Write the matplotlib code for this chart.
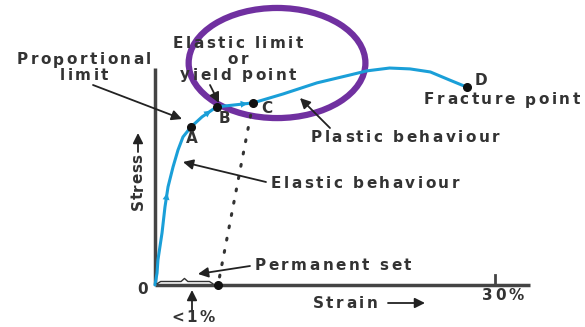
import matplotlib.pyplot as plt
from matplotlib.patches import Ellipse
from matplotlib.font_manager import FontProperties

# stress-strain curve (strain in %, stress in arbitrary units, max ~100)
strain = [0, 0.18, 0.26, 0.62, 0.88, 1.15, 1.59, 2.03, 2.47, 3.18, 4.15,
          5.30, 5.47, 7.06, 8.65, 11.3, 14.3, 17.2, 18.7, 20.7, 22.5,
          24.3, 26.0, 27.5]
stress = [0, 5.5, 11.5, 23.9, 35.8, 45.0, 54.1, 61.9, 67.9, 72.5, 77.1,
          81.2, 81.7, 82.6, 83.5, 87.6, 92.7, 96.3, 98.2, 99.5, 99.1,
          97.7, 94.0, 90.8]

# named points
point_names = ["A", "B", "C", "D"]
point_strain = [3.18, 5.47, 8.65, 27.5]
point_stress = [72.5, 81.7, 83.5, 90.8]

# unloading line from C back to the strain axis
unload_strain = [8.65, 5.56]
unload_stress = [83.5, 0]

W, H = 585, 327
fig = plt.figure(figsize=(W / 100, H / 100), dpi=100)
ax = fig.add_axes([0, 0, 1, 1])
ax.set_xlim(-13.68, 37.95)
ax.set_ylim(-19.27, 130.7)
ax.axis("off")

txt = "#333333"
blue = "#1a9fd8"
font = FontProperties(family="DejaVu Sans", weight="bold", size=11)
renderer = fig.canvas.get_renderer()


def fp(x, y):
    # figure pixels measured from top-left
    return (x, H - y)


def spaced(cx, cy, s, gap=2.5, rotation=0):
    widths = [renderer.get_text_width_height_descent(c, font, ismath=False)[0]
              for c in s]
    total = sum(widths) + gap * (len(s) - 1)
    pos = -total / 2
    for c, w in zip(s, widths):
        mid = pos + w / 2
        if rotation == 90:
            x, y = cx, cy - mid
        else:
            x, y = cx + mid, cy
        fig.text(x / W, 1 - y / H, c, ha="center", va="center",
                 rotation=rotation, fontproperties=font, color=txt)
        pos += w + gap


# axes lines
ax.plot([0, 0], [0, 99.5], color="#444444", lw=2.5, solid_capstyle="butt")
ax.plot([0, 33.1], [0, 0], color="#444444", lw=2.5, solid_capstyle="butt")
ax.plot([30, 30], [0, 4.6], color="#444444", lw=2)

# curve
ax.plot(strain, stress, color=blue, lw=2.2, solid_capstyle="round")
for i in [4, 10, 13]:
    ax.annotate("", xy=(strain[i] + (strain[i + 1] - strain[i]) * 0.7,
                        stress[i] + (stress[i + 1] - stress[i]) * 0.7),
                xytext=(strain[i], stress[i]),
                arrowprops=dict(arrowstyle="-|>,head_length=0.5,head_width=0.25",
                                color=blue, lw=0, shrinkA=0, shrinkB=0))

# unloading dotted line
ax.plot(unload_strain, unload_stress, color="#333333", lw=2.2,
        linestyle=(0, (0.6, 3.5)), dash_capstyle="round")
ax.plot(point_strain, point_stress, "o", color="#111111", ms=5.5)
ax.plot(unload_strain[1:], unload_stress[1:], "o", color="#111111", ms=5.5)

# purple ellipse
ax.add_patch(Ellipse((10.77, 101.8), 15.6, 50.5, fill=False,
                     edgecolor="#7030a0", lw=4.5))

# permanent set brace
bx = [0.2, 0.5, 2.3, 2.6, 2.9, 4.8, 5.1]
by = [0.6, 1.6, 1.6, 3.0, 1.6, 1.6, 0.6]
ax.plot(bx, by, color="#333333", lw=1)

for name, dx, dy in [("A", 1, -12), ("B", 7, -12), ("C", 14, -6), ("D", 14, 6)]:
    i = point_names.index(name)
    ax.annotate(name, (point_strain[i], point_stress[i]),
                xytext=(dx, dy), textcoords="offset pixels",
                ha="center", va="center", fontproperties=font, color=txt)

spaced(84, 60, "Proportional")
spaced(84, 76, "limit")
spaced(238, 43, "Elastic limit")
spaced(238, 59, "or")
spaced(238, 75, "yield point")
spaced(405, 137, "Plastic behaviour")
spaced(502, 100, "Fracture point")
spaced(365, 183, "Elastic behaviour")
spaced(333, 265, "Permanent set")
spaced(143, 289, "0")
spaced(345, 303, "Strain")
spaced(503, 296, "30%")
spaced(193, 318, "<1%")
spaced(138, 182, "Stress", gap=0.5, rotation=90)

arrow = dict(arrowstyle="-|>,head_length=0.6,head_width=0.3",
             color="#222222", lw=1.3, shrinkA=0, shrinkB=0)
pairs = [((93, 85), (182, 119)),
         ((210, 85), (219, 103)),
         ((330, 128), (300, 98)),
         ((266, 182), (183, 162)),
         ((250, 266), (198, 274)),
         ((388, 303), (425, 303)),
         ((192, 310), (192, 290)),
         ((138, 152), (138, 133))]
for tail, head in pairs:
    ax.annotate("", xy=fp(*head), xycoords="figure pixels",
                xytext=fp(*tail), textcoords="figure pixels",
                arrowprops=arrow)

fig.savefig("out.png", dpi=100)
